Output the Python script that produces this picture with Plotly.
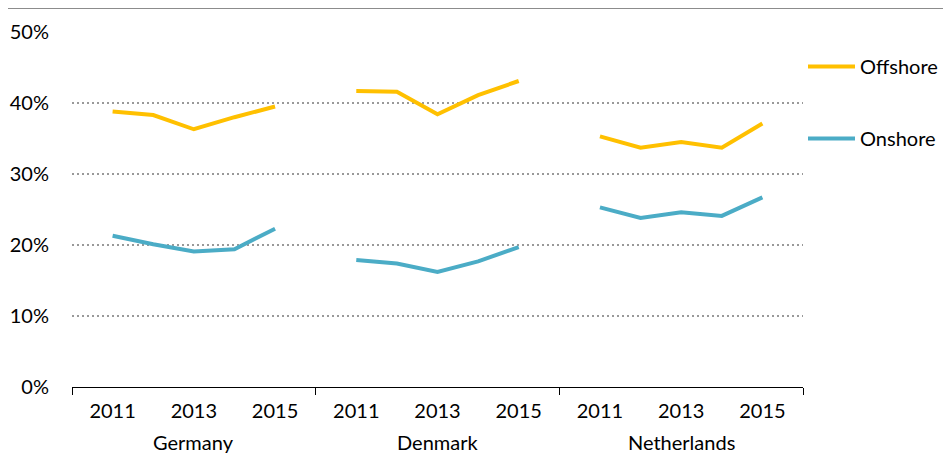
import plotly.graph_objects as go

countries = ["Germany", "Denmark", "Netherlands"]
years = [2011, 2012, 2013, 2014, 2015]
year_labels = ["2011", "2013", "2015"]

offshore = {
    "Germany": [38.8, 38.3, 36.3, 38.0, 39.5],
    "Denmark": [41.7, 41.6, 38.4, 41.1, 43.1],
    "Netherlands": [35.3, 33.7, 34.5, 33.7, 37.1],
}
onshore = {
    "Germany": [21.3, 20.1, 19.1, 19.4, 22.3],
    "Denmark": [17.9, 17.4, 16.2, 17.7, 19.7],
    "Netherlands": [25.3, 23.8, 24.6, 24.1, 26.7],
}

# Each country occupies a group of (len(years)+1) slots; first slot empty
group_size = len(years) + 1


def build(series):
    xs, ys = [], []
    for gi, c in enumerate(countries):
        for yi, v in enumerate(series[c]):
            xs.append(gi * group_size + 1 + yi)
            ys.append(v)
        xs.append(None)
        ys.append(None)
    return xs, ys


FONT = "Lato, Carlito, Calibri, sans-serif"
FS = 20
fig = go.Figure()
for name, series, color in [("Offshore", offshore, "#FFC000"), ("Onshore", onshore, "#4BACC6")]:
    xs, ys = build(series)
    fig.add_trace(go.Scatter(x=xs, y=ys, mode="lines", name=name, legendgroup=name,
                             line=dict(color=color, width=4), connectgaps=False,
                             hoverinfo="skip"))

xmax = group_size * len(countries)
tickvals, ticktext = [], []
for gi in range(len(countries)):
    for lab in year_labels:
        tickvals.append(gi * group_size + 1 + years.index(int(lab)))
        ticktext.append(lab)

fig.update_layout(
    width=951, height=453,
    margin=dict(l=64, r=156, t=24, b=74, autoexpand=False),
    paper_bgcolor="white", plot_bgcolor="white",
    font=dict(family=FONT, size=FS, color="#000000"),
    showlegend=True,
    legend=dict(x=1.0, y=0.958, xanchor="left", yanchor="top", tracegroupgap=43,
                itemwidth=47, font=dict(size=FS), bgcolor="rgba(0,0,0,0)"),
    xaxis=dict(range=[0, xmax], tickvals=tickvals, ticktext=ticktext, ticks="",
               showgrid=False, zeroline=False, showline=True, linecolor="#000000",
               linewidth=1, ticklabelstandoff=6, tickfont=dict(size=FS), automargin=False),
    xaxis2=dict(range=[0, xmax], overlaying="x", anchor="y", side="bottom",
                tickvals=[gi * group_size for gi in range(len(countries) + 1)],
                ticks="outside", ticklen=7, tickcolor="#000000", tickwidth=1,
                showticklabels=False, showgrid=False, zeroline=False, showline=False,
                automargin=False),
    yaxis=dict(range=[0, 50], tickvals=[0, 10, 20, 30, 40, 50],
               ticktext=["0%", "10%", "20%", "30%", "40%", "50%"],
               showgrid=True, gridcolor="#999999", gridwidth=1.6, griddash="2px,3px",
               zeroline=False, showline=False, ticks="", ticklabelstandoff=22,
               tickfont=dict(size=FS), automargin=False),
)
# invisible trace to activate xaxis2
fig.add_trace(go.Scatter(x=[0, xmax], y=[None, None], xaxis="x2", showlegend=False,
                         hoverinfo="skip"))

for gi, c in enumerate(countries):
    fig.add_annotation(x=gi * group_size + group_size / 2, y=0, xref="x", yref="paper",
                       text=c, showarrow=False, yanchor="middle", yshift=-55,
                       font=dict(family=FONT, size=FS, color="#000000"))

fig.add_shape(type="line", xref="paper", yref="paper", x0=-0.1, x1=1.22,
              y0=1.0676, y1=1.0676, line=dict(color="#8c8c8c", width=2))

fig.write_html("out.html")
